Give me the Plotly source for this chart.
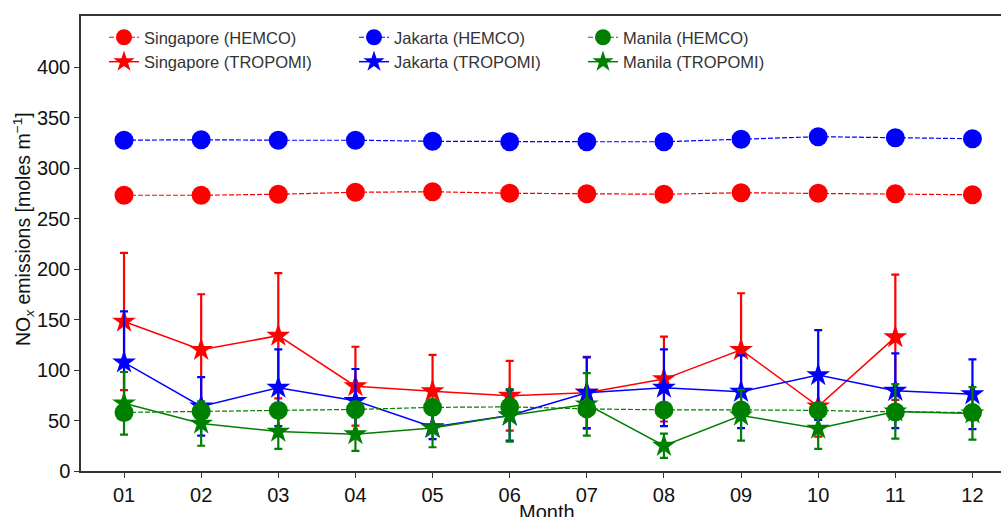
import plotly.graph_objects as go

months = ["01", "02", "03", "04", "05", "06", "07", "08", "09", "10", "11", "12"]
month_num = list(range(1, 13))

sg_hemco = [273, 273, 274, 276, 276.5, 275, 274.5, 274, 275.5, 275, 274.5, 273.5]
jk_hemco = [327.5, 328, 327.5, 327.5, 326.5, 326, 326, 326, 328.5, 331, 330, 329]
mn_hemco = [58, 59, 60, 61, 63, 63.5, 61.5, 60.5, 60.5, 60, 58.5, 58]

sg_trop = [148, 120, 134, 84, 79, 74.5, 77.5, 91, 120, 64, 132.5, None]
sg_err = [68, 55, 62, 39, 36, 34.5, 35.5, 42, 56, 30, 62, None]
jk_trop = [107.5, 64, 82.5, 69.5, 43.5, 55, 77.5, 82.5, 78.5, 95, 79.5, 76]
jk_err = [50.5, 29, 38, 31.5, 12, 25, 35, 38, 36, 44.5, 37, 34.5]
mn_trop = [67, 47, 39, 36.5, 42.5, 55, 66, 25, 55, 42, 59, 57]
mn_err = [31, 22, 17, 16.5, 19, 26, 31, 12, 25, 20, 27, 26]

yticks = [0, 50, 100, 150, 200, 250, 300, 350, 400]

cities = [
    ("Singapore", "#ff0000", sg_hemco, sg_trop, sg_err, "legend"),
    ("Jakarta", "#0000ff", jk_hemco, jk_trop, jk_err, "legend2"),
    ("Manila", "#008000", mn_hemco, mn_trop, mn_err, "legend3"),
]

FONT = "Liberation Sans, Arial, sans-serif"

fig = go.Figure()
for name, col, hem, trop, err, leg in cities:
    fig.add_trace(go.Scatter(
        x=month_num, y=hem, mode="lines+markers", name=f"{name} (HEMCO)",
        line=dict(color=col, width=1.2, dash="5px,2px"),
        marker=dict(symbol="circle", size=19, color=col),
        legend=leg,
    ))
    fig.add_trace(go.Scatter(
        x=month_num, y=trop, mode="lines+markers", name=f"{name} (TROPOMI)",
        line=dict(color=col, width=1.5),
        marker=dict(symbol="star", size=18, color=col),
        error_y=dict(type="data", array=err, visible=True, color=col,
                     thickness=2.2, width=4),
        legend=leg,
        connectgaps=False,
    ))

W, H = 1001, 517
L, T, B = 81, 16, 46
pw = W - L
ph = H - T - B

def lx(px):
    return (px - L) / pw

def ly(py):
    return 1 - (py - T) / ph

legend_common = dict(
    orientation="v", xanchor="left", yanchor="top",
    bgcolor="rgba(0,0,0,0)", borderwidth=0,
    font=dict(family=FONT, size=16.5, color="#333333"),
    itemsizing="trace", tracegroupgap=0,
)

fig.update_layout(
    width=W, height=H,
    margin=dict(l=L, r=0, t=T, b=B, pad=0),
    paper_bgcolor="white", plot_bgcolor="white",
    font=dict(family=FONT, size=20, color="#111111"),
    legend=dict(x=lx(104), y=ly(20), **legend_common),
    legend2=dict(x=lx(354), y=ly(20), **legend_common),
    legend3=dict(x=lx(583), y=ly(20), **legend_common),
    xaxis=dict(
        range=[0.442, 12.37], tickmode="array", tickvals=month_num, ticktext=months,
        showline=True, linecolor="#333333", linewidth=1.5, mirror=True,
        ticks="outside", ticklen=5, tickwidth=1.2, tickcolor="#333333",
        showgrid=False, zeroline=False, automargin=False,
        tickfont=dict(size=20, color="#111111"),
    ),
    yaxis=dict(
        range=[0, 450.5], tickmode="array", tickvals=yticks,
        showline=True, linecolor="#333333", linewidth=1.5,
        ticks="outside", ticklen=5, tickwidth=1.2, tickcolor="#333333",
        showgrid=False, zeroline=False, automargin=False,
        tickfont=dict(size=20, color="#111111"),
    ),
    annotations=[
        dict(text="Month", xref="paper", yref="paper",
             x=lx(547), y=ly(512), xanchor="center", yanchor="middle",
             showarrow=False, font=dict(size=20, color="#111111")),
        dict(text="NO<sub><i>x</i></sub> emissions [moles m<sup>\u22121</sup>]",
             xref="paper", yref="paper", textangle=-90,
             x=lx(23), y=ly(229), xanchor="center", yanchor="middle",
             showarrow=False, font=dict(size=19.5, color="#111111")),
    ],
)

fig.write_html("out.html")
